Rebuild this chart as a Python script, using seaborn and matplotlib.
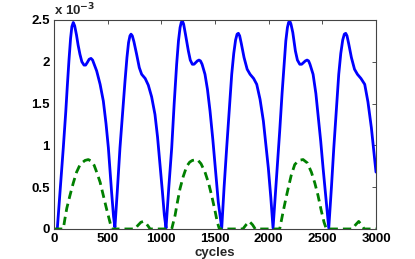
import numpy as np
import pandas as pd
import matplotlib
matplotlib.use("Agg")
import matplotlib.pyplot as plt
from matplotlib.ticker import FuncFormatter
import seaborn as sns

# ---- data (values in units of 1e-3) ----
blue_x = [31, 60, 87, 110, 124, 140, 155, 167, 180, 193, 210, 225, 242, 260, 280, 295, 310, 328, 345, 360, 375, 398, 430, 460, 485, 507, 537, 555, 568,
          590, 615, 640, 662, 680, 695, 708, 718, 730, 745, 770, 795, 817, 850, 879, 910, 941, 965, 988, 1010, 1028, 1044,
          1070, 1097, 1120, 1143, 1160, 1175, 1186, 1196, 1208, 1225, 1252, 1270, 1289, 1305, 1320, 1336, 1351, 1365, 1380, 1407, 1430, 1454, 1480, 1500, 1531, 1563,
          1585, 1609, 1635, 1656, 1675, 1692, 1706, 1718, 1730, 1745, 1771, 1800, 1827, 1860, 1889, 1920, 1951, 1975, 1997, 2020, 2041,
          2070, 2103, 2125, 2144, 2160, 2175, 2186, 2196, 2208, 2225, 2249, 2268, 2290, 2308, 2325, 2342, 2358, 2372, 2385, 2414, 2440, 2460, 2485, 2507, 2535, 2560,
          2585, 2607, 2632, 2653, 2672, 2690, 2705, 2718, 2730, 2745, 2771, 2800, 2827, 2860, 2895, 2925, 2957, 3000]
blue_y = [0.0, 0.50, 0.97, 1.40, 1.70, 2.02, 2.28, 2.42, 2.47, 2.43, 2.32, 2.20, 2.09, 2.00, 1.96, 1.96, 1.99, 2.03, 2.04, 2.02, 1.97, 1.89, 1.73, 1.53, 1.26, 0.97, 0.44, 0.15, 0.02,
          0.45, 0.97, 1.40, 1.77, 2.05, 2.23, 2.31, 2.33, 2.31, 2.24, 2.09, 1.93, 1.85, 1.80, 1.72, 1.58, 1.37, 1.10, 0.77, 0.45, 0.17, 0.01,
          0.50, 0.97, 1.50, 1.97, 2.25, 2.41, 2.47, 2.49, 2.45, 2.33, 2.13, 2.02, 1.97, 1.97, 1.99, 2.01, 2.02, 2.01, 1.97, 1.85, 1.67, 1.41, 1.07, 0.77, 0.32, 0.01,
          0.50, 0.97, 1.45, 1.85, 2.10, 2.26, 2.33, 2.34, 2.31, 2.22, 2.05, 1.91, 1.85, 1.80, 1.73, 1.55, 1.29, 1.00, 0.73, 0.38, 0.01,
          0.55, 1.17, 1.62, 1.97, 2.25, 2.41, 2.47, 2.49, 2.45, 2.35, 2.13, 2.02, 1.97, 1.97, 1.99, 2.01, 2.02, 2.01, 1.97, 1.85, 1.62, 1.37, 1.05, 0.73, 0.35, 0.01,
          0.50, 0.97, 1.45, 1.85, 2.10, 2.26, 2.33, 2.34, 2.31, 2.22, 2.05, 1.91, 1.85, 1.80, 1.73, 1.52, 1.21, 0.68]

green_x = [0, 87, 102, 120, 149, 180, 211, 240, 260, 290, 320, 350, 375, 398, 430, 460, 490, 522, 537,
           755, 780, 810, 833, 856, 880, 895,
           1097, 1128, 1150, 1174, 1205, 1237, 1265, 1290, 1336, 1370, 1407, 1440, 1469, 1500, 1522, 1541,
           1760, 1790, 1820, 1850, 1875,
           2103, 2134, 2160, 2181, 2210, 2243, 2280, 2321, 2360, 2398, 2430, 2460, 2490, 2516, 2538,
           2780, 2810, 2839, 2865, 2890, 3000]
green_y = [0, 0, 0.12, 0.25, 0.40, 0.55, 0.68, 0.76, 0.79, 0.82, 0.83, 0.81, 0.76, 0.68, 0.56, 0.40, 0.24, 0.08, 0,
           0, 0.04, 0.08, 0.09, 0.07, 0.03, 0,
           0, 0.16, 0.32, 0.48, 0.63, 0.75, 0.80, 0.82, 0.83, 0.78, 0.68, 0.55, 0.40, 0.22, 0.08, 0,
           0, 0.05, 0.09, 0.05, 0,
           0, 0.20, 0.36, 0.48, 0.64, 0.77, 0.82, 0.83, 0.79, 0.68, 0.55, 0.40, 0.22, 0.08, 0,
           0, 0.05, 0.09, 0.05, 0, 0]

x_ticks = [0, 500, 1000, 1500, 2000, 2500, 3000]
y_ticks = [0, 0.5, 1, 1.5, 2, 2.5]
scale = 1e-3

df_b = pd.DataFrame({"cycles": blue_x, "val": np.array(blue_y) * scale})
df_g = pd.DataFrame({"cycles": green_x, "val": np.array(green_y) * scale})

sns.set_theme(style="white")
plt.rcParams["font.family"] = ["Liberation Sans", "DejaVu Sans"]
plt.rcParams["font.weight"] = "bold"

fig = plt.figure(figsize=(4.15, 2.59), dpi=100)
ax = fig.add_axes([0.130, 0.116, 0.776, 0.807])

sns.lineplot(data=df_b, x="cycles", y="val", ax=ax, color="#0000ff", lw=2.0,
             sort=False, estimator=None)
sns.lineplot(data=df_g, x="cycles", y="val", ax=ax, color="#008000", lw=2.0,
             sort=False, estimator=None, linestyle=(0, (3.0, 1.8)))

ax.set_xlim(0, 3000)
ax.set_ylim(0, 2.5 * scale)
ax.set_xticks(x_ticks)
ax.set_yticks([v * scale for v in y_ticks])
ax.yaxis.set_major_formatter(FuncFormatter(lambda v, p: f"{v/scale:g}"))
ax.xaxis.set_major_formatter(FuncFormatter(lambda v, p: f"{v:g}"))
ax.tick_params(direction="in", length=3, width=0.6, top=True, right=True,
               labelsize=9.5, colors="#333333", labelcolor="black", pad=3)
for lab in ax.get_xticklabels() + ax.get_yticklabels():
    lab.set_fontweight("bold")
for s in ax.spines.values():
    s.set_color("#444444")
    s.set_linewidth(0.8)
ax.set_xlabel("cycles", fontsize=9.5, fontweight="bold", labelpad=1)
ax.set_ylabel("")
ax.text(0.0, 1.01, r"x 10$^{-3}$", transform=ax.transAxes, fontsize=9.5,
        fontweight="bold", ha="left", va="bottom")

fig.savefig("out.png", dpi=100)
